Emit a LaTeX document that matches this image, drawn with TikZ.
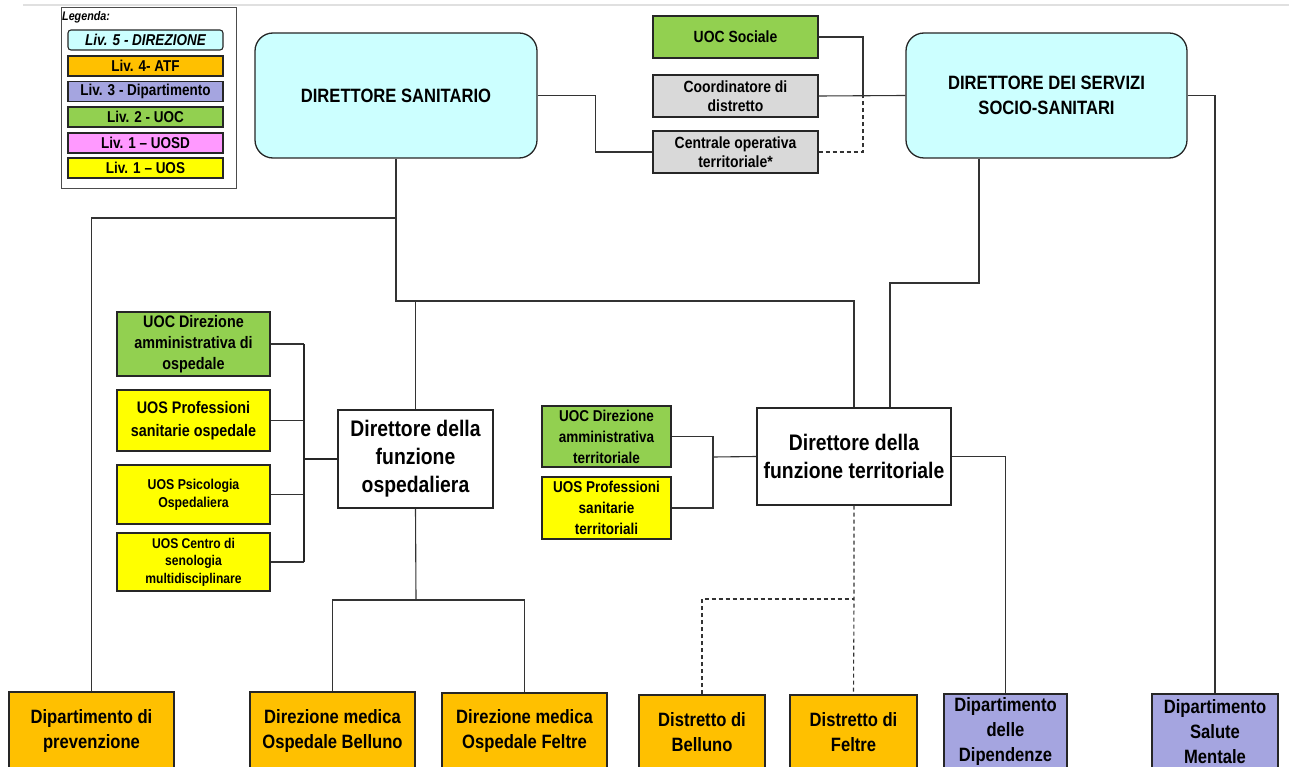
\documentclass[tikz,border=0pt]{standalone}
\usepackage{fontspec}
\setmainfont[FakeStretch=0.86]{Liberation Sans}
\newcommand\bfs[2]{\fontsize{#1}{#2}\selectfont\bfseries}
\definecolor{dirfill}{HTML}{CCFFFF}
\definecolor{atffill}{HTML}{FFC000}
\definecolor{depfill}{HTML}{A5A5E0}
\definecolor{uocfill}{HTML}{92D050}
\definecolor{uosdfill}{HTML}{FF99FF}
\definecolor{uosfill}{HTML}{FFFF00}
\definecolor{staffill}{HTML}{D9D9D9}
\begin{document}
\begin{tikzpicture}[x=1pt,y=-1pt,
  box/.style={draw=black!85, line width=1.3pt, inner sep=0pt, align=center, text=black},
  legitem/.style={box, line width=1.1pt, minimum width=155pt, minimum height=20pt, font={\bfs{15.7}{17}}},
  direz/.style={box, fill=dirfill, rounded corners=18pt, minimum width=282pt, minimum height=125pt, font={\bfs{19.3}{25}}},
  staff/.style={box, minimum width=165pt, minimum height=42pt, font={\bfs{16.2}{19.5}}},
  unit/.style={box, minimum width=153pt},
  bigdir/.style={box, fill=white, font={\bfs{22.5}{28}}},
  bottom/.style={box, fill=atffill, font={\bfs{19.3}{25}}},
  dept/.style={box, fill=depfill, font={\bfs{19.3}{25}}},
  conn/.style={draw=black!80, line width=1.1pt},
  bus/.style={draw=black!85, line width=2pt},
  dconn/.style={conn, dashed, dash pattern=on 4pt off 3pt}]
\useasboundingbox (0,0) rectangle (1289,767);
\clip (0,0) rectangle (1289,767);

% page rule at the top
\draw[black!12, line width=1.2pt] (23,5) -- (1289,5);

% legend
\node[draw=black!70, line width=1pt, minimum width=175pt, minimum height=181pt] (leg) at (148.5,98.5) {};
\node[anchor=west, inner sep=0pt, font={\bfs{12.5}{14}\itshape}] (legt) at (62,17) {Legenda:};
\node[legitem, fill=dirfill, rounded corners=3pt, font={\bfs{15.7}{17}\itshape}] (l5) at (145.5,40) {Liv. 5 - DIREZIONE};
\node[legitem, fill=atffill] (l4) at (145.5,66) {Liv. 4- ATF};
\node[legitem, fill=depfill] (l3) at (145.5,91.5) {Liv. 3 - Dipartimento};
\node[legitem, fill=uocfill] (l2) at (145.5,117) {Liv. 2 - UOC};
\node[legitem, fill=uosdfill] (l1d) at (145.5,143) {Liv. 1 – UOSD};
\node[legitem, fill=uosfill] (l1) at (145.5,168) {Liv. 1 – UOS};

% top management
\node[direz] (ds) at (396,95.5) {DIRETTORE SANITARIO};
\node[direz, minimum width=281pt] (dss) at (1046.5,95.5) {DIRETTORE DEI SERVIZI\\SOCIO-SANITARI};

% staff boxes between the two directors
\node[staff, fill=uocfill] (soc) at (735.5,37) {UOC Sociale};
\node[staff, fill=staffill] (coord) at (735.5,96) {Coordinatore di\\distretto};
\node[staff, fill=staffill] (cot) at (735.5,152) {Centrale operativa\\territoriale*};

% hospital function
\node[bigdir, minimum width=155pt, minimum height=98pt] (dfo) at (415.5,459) {Direttore della\\funzione\\ospedaliera};
\node[unit, fill=uocfill, minimum height=64pt, font={\bfs{16.7}{21}}] (h1) at (193.5,344) {UOC Direzione\\amministrativa di\\ospedale};
\node[unit, fill=uosfill, minimum height=61pt, font={\bfs{16.7}{22.5}}] (h2) at (193.5,420.5) {UOS Professioni\\sanitarie ospedale};
\node[unit, fill=uosfill, minimum height=59pt, font={\bfs{14.3}{18}}] (h3) at (193.5,494.5) {UOS Psicologia\\Ospedaliera};
\node[unit, fill=uosfill, minimum height=58pt, font={\bfs{14.1}{17.5}}] (h4) at (193.5,562) {UOS Centro di\\senologia\\multidisciplinare};

% territorial function
\node[bigdir, minimum width=194pt, minimum height=97pt] (dft) at (854,456.5) {Direttore della\\funzione territoriale};
\node[box, fill=uocfill, minimum width=129pt, minimum height=61pt, font={\bfs{15.7}{21}}] (t1) at (606.5,436.5) {UOC Direzione\\amministrativa\\territoriale};
\node[box, fill=uosfill, minimum width=129pt, minimum height=62pt, font={\bfs{15.7}{21}}] (t2) at (606.5,508) {UOS Professioni\\sanitarie\\territoriali};

% bottom row
\node[bottom, minimum width=165pt, minimum height=78pt] (dprev) at (91.5,731) {Dipartimento di\\prevenzione};
\node[bottom, minimum width=165pt, minimum height=78pt] (dmb) at (332.5,731) {Direzione medica\\Ospedale Belluno};
\node[bottom, minimum width=165pt, minimum height=76pt] (dmf) at (524.5,731) {Direzione medica\\Ospedale Feltre};
\node[bottom, minimum width=126pt, minimum height=74pt] (dbel) at (702,732) {Distretto di\\Belluno};
\node[bottom, minimum width=127pt, minimum height=74pt] (dfel) at (853.5,732) {Distretto di\\Feltre};
\node[dept, minimum width=123pt, minimum height=76pt] (ddip) at (1005.5,732) {Dipartimento\\delle\\Dipendenze};
\node[dept, minimum width=126pt, minimum height=76pt] (dsm) at (1215,732) {Dipartimento\\Salute\\Mentale};

% junction points
\coordinate (jt) at (863,96);
\coordinate (ja) at (396,218);
\coordinate (jb) at (396,301);
\coordinate (jc) at (854,301);
\coordinate (jd) at (979,283);
\coordinate (je) at (890,283);
\coordinate (jh) at (304,459);
\coordinate (ji) at (713,457);
\coordinate (jg) at (416,600);
\coordinate (jf) at (854,599);

% connectors around the top
\draw[conn] (ds.east) -- ++(58,0) |- (cot.west);
\draw[conn] (soc.east) -| (jt);
\draw[conn] (coord.east) -- (dss.west);
\draw[dconn] (cot.east) -| (jt);

% from the health director
\draw[conn] (ds.south) -- (jb) -- (jc) -- (jc |- dft.north);
\draw[conn] (ja) -| (dprev.north);
\draw[conn] (dfo.north |- jb) -- (dfo.north);

% from the social-health director
\draw[conn] (jd |- dss.south) -- (jd) -- (je) -- (je |- dft.north);
\draw[conn] (dss.east) -| (dsm.north);

% hospital staff bus
\draw[conn] (h1.east) -- (h1.east -| jh);
\draw[conn] (h2.east) -- (h2.east -| jh);
\draw[conn] (h3.east) -- (h3.east -| jh);
\draw[conn] (h4.east) -- (h4.east -| jh);
\draw[bus] (h1.east -| jh) -- (h4.east -| jh);
\draw[bus] (jh) -- (dfo.west);

% hospital directions
\draw[conn] (dfo.south) -- (jg);
\draw[conn] (dmb.north) |- (jg) -| (dmf.north);

% territorial staff
\draw[conn] (t1.east) -- (t1.east -| ji) -- (t2.east -| ji) -- (t2.east);
\draw[conn] (ji) -- (dft.west);

% territorial branches
\draw[conn] (dft.east) -| (ddip.north);
\draw[dconn] (jf |- dft.south) -- (jf) -- (dfel.north);
\draw[dconn] (dbel.north) |- (jf);
\end{tikzpicture}
\end{document}
